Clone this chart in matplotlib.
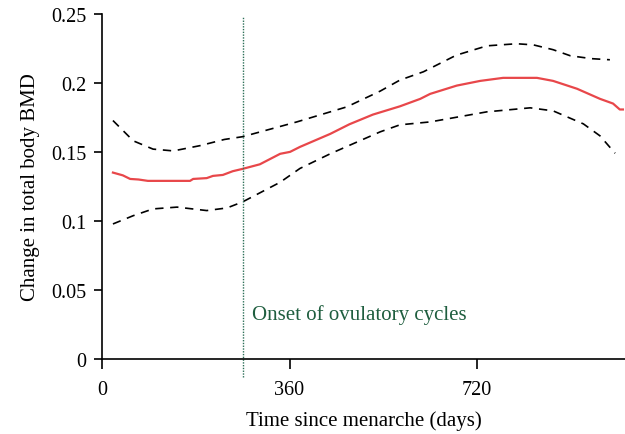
import matplotlib
matplotlib.use("Agg")
import matplotlib.pyplot as plt

# Data (days since menarche, change in total body BMD)
est_days = [21, 40, 54, 70, 88, 130, 169, 175, 201, 213, 232, 251, 270, 303, 342, 361, 380,
            438, 475, 520, 572, 611, 630, 681, 726, 770, 835, 866, 912, 956, 981, 994, 1000]
est_vals = [0.1350, 0.1330, 0.1304, 0.1300, 0.1290, 0.1290, 0.1290, 0.1304, 0.1310, 0.1326,
            0.1333, 0.1360, 0.1377, 0.1410, 0.1486, 0.1500, 0.1536, 0.1630, 0.1700, 0.1770,
            0.1830, 0.1884, 0.1920, 0.1980, 0.2014, 0.2036, 0.2036, 0.2014, 0.1957, 0.1884,
            0.1850, 0.1807, 0.1807]

upper_days = [21, 60, 98, 137, 188, 235, 270, 374, 470, 534, 572, 617, 680, 739, 796, 828,
              866, 899, 940, 975]
upper_vals = [0.1727, 0.1580, 0.1520, 0.1507, 0.1545, 0.1590, 0.1610, 0.1717, 0.1826, 0.1940,
              0.2020, 0.2080, 0.2200, 0.2268, 0.2283, 0.2275, 0.2240, 0.2196, 0.2175, 0.2167]

lower_days = [21, 60, 98, 144, 201, 240, 270, 342, 380, 438, 534, 572, 630, 739, 822, 866,
              924, 956, 985]
lower_vals = [0.0978, 0.1038, 0.1087, 0.1100, 0.1075, 0.1094, 0.1138, 0.1280, 0.1380, 0.1486,
              0.1645, 0.1696, 0.1717, 0.1790, 0.1819, 0.1797, 0.1703, 0.1616, 0.1490]

onset_day = 270
x_ticks = [0, 360, 720]
y_ticks = [0, 0.05, 0.1, 0.15, 0.2, 0.25]
y_tick_labels = ["0", "0.05", "0.1", "0.15", "0.2", "0.25"]

plt.rcParams['font.family'] = ['Liberation Serif', 'DejaVu Serif']

fig = plt.figure(figsize=(6.25, 4.35), dpi=100)
ax = fig.add_axes([0.1632, 0.1724, 0.8368, 0.7936])

ax.plot(est_days, est_vals, color='#e8474a', lw=1.6)
ax.plot(upper_days, upper_vals, color='black', lw=1.2, dashes=(5, 4))
ax.plot(lower_days, lower_vals, color='black', lw=1.2, dashes=(5, 4))

ax.axvline(onset_day, ymin=-0.052, ymax=0.992, color='#2d7058', lw=1.0,
           linestyle=(0, (1, 1)), clip_on=False)
ax.text(288, 0.0326, "Onset of ovulatory cycles", color='#1f5e3f', fontsize=15,
        va='center', ha='left')

ax.set_xlim(0, 1004)
ax.set_ylim(0, 0.25)
ax.set_xticks(x_ticks)
ax.set_xticklabels([str(t) for t in x_ticks])
ax.set_yticks(y_ticks)
ax.set_yticklabels(y_tick_labels)

for s in ['top', 'right']:
    ax.spines[s].set_visible(False)
for s in ['left', 'bottom']:
    ax.spines[s].set_linewidth(1.2)

ax.tick_params(axis='x', length=7, width=1.2, pad=8, labelsize=14.5)
ax.tick_params(axis='y', length=5.5, width=1.2, pad=6, labelsize=14.5)

ax.set_xlabel("Time since menarche (days)", fontsize=15, labelpad=8)
ax.set_ylabel("Change in total body BMD", fontsize=15, labelpad=8)

fig.savefig("out.png", dpi=100)
